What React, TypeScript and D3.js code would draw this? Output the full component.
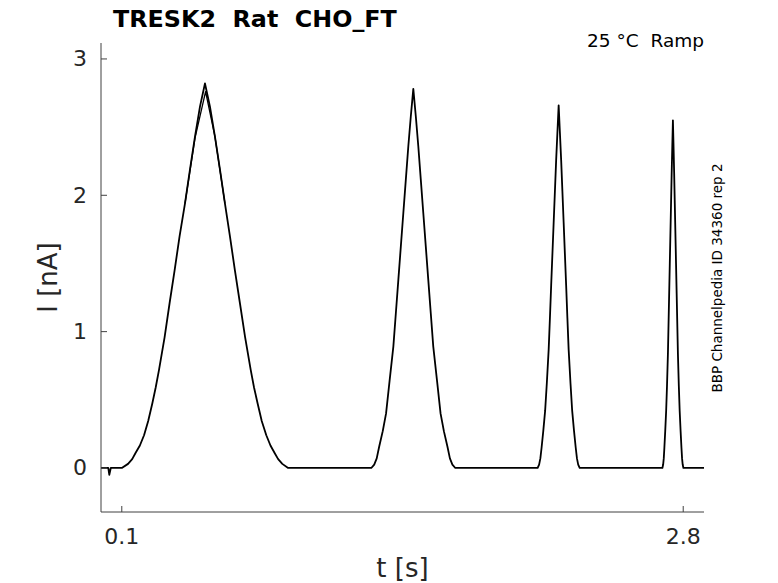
import React from "react";
import * as d3 from "d3";

const baseT = [0, 0.035, 0.04, 0.047];
const baseI = [0, 0, -0.05, 0];

const peak1T = [0.1, 0.13, 0.15, 0.166, 0.187, 0.207, 0.227, 0.247, 0.263, 0.279, 0.306, 0.33, 0.354, 0.378, 0.404, 0.428, 0.452, 0.476, 0.5,
  0.524, 0.548, 0.572, 0.596, 0.62, 0.644, 0.668, 0.693, 0.72, 0.736, 0.753, 0.773, 0.795, 0.815, 0.835, 0.852, 0.872, 0.9];
const peak1I = [0, 0.03, 0.065, 0.11, 0.165, 0.24, 0.345, 0.475, 0.59, 0.72, 0.96, 1.21, 1.45, 1.7, 1.94, 2.19, 2.43, 2.65, 2.82,
  2.65, 2.43, 2.19, 1.94, 1.7, 1.45, 1.21, 0.96, 0.72, 0.59, 0.475, 0.345, 0.24, 0.165, 0.11, 0.065, 0.03, 0];

const peak2T = [1.3, 1.314, 1.326, 1.338, 1.355, 1.371, 1.388, 1.406, 1.418, 1.43, 1.442, 1.454, 1.466, 1.478, 1.49, 1.502,
  1.514, 1.526, 1.538, 1.55, 1.562, 1.574, 1.586, 1.598, 1.616, 1.633, 1.649, 1.666, 1.678, 1.69, 1.704];
const peak2I = [0, 0.025, 0.07, 0.157, 0.27, 0.4, 0.64, 0.89, 1.135, 1.38, 1.625, 1.87, 2.115, 2.36, 2.58, 2.78,
  2.58, 2.36, 2.115, 1.87, 1.625, 1.38, 1.135, 0.89, 0.64, 0.4, 0.27, 0.157, 0.07, 0.025, 0];

const peak3T = [2.1, 2.107, 2.113, 2.119, 2.127, 2.136, 2.144, 2.153, 2.159, 2.165, 2.171, 2.177, 2.183, 2.189, 2.195, 2.201,
  2.207, 2.213, 2.219, 2.225, 2.231, 2.237, 2.243, 2.249, 2.258, 2.266, 2.275, 2.283, 2.289, 2.295, 2.302];
const peak3I = [0, 0.025, 0.07, 0.15, 0.27, 0.42, 0.62, 0.87, 1.1, 1.34, 1.57, 1.8, 2.03, 2.26, 2.46, 2.66,
  2.46, 2.26, 2.03, 1.8, 1.57, 1.34, 1.1, 0.87, 0.62, 0.42, 0.27, 0.15, 0.07, 0.025, 0];

const peak4T = [2.7, 2.7035, 2.7065, 2.7095, 2.7135, 2.718, 2.722, 2.7265, 2.7295, 2.7325, 2.7355, 2.7385, 2.7415, 2.7445, 2.7475, 2.7505,
  2.7535, 2.7565, 2.7595, 2.7625, 2.7655, 2.7685, 2.7715, 2.7745, 2.779, 2.783, 2.7875, 2.7915, 2.7945, 2.7975, 2.801, 2.9];
const peak4I = [0, 0.025, 0.07, 0.15, 0.27, 0.42, 0.6, 0.84, 1.06, 1.28, 1.5, 1.72, 1.94, 2.16, 2.36, 2.55,
  2.36, 2.16, 1.94, 1.72, 1.5, 1.28, 1.06, 0.84, 0.6, 0.42, 0.27, 0.15, 0.07, 0.025, 0, 0];

// second, slightly lower sweep visible on top of the first ramp
const sweep2T = [0.404, 0.452, 0.503, 0.548, 0.596];
const sweep2I = [1.94, 2.42, 2.76, 2.43, 1.94];

const xTicks = [0.1, 2.8];
const yTicks = [0, 1, 2, 3];

const title = "TRESK2  Rat  CHO_FT";
const condition = "25 °C  Ramp";
const sideNote = "BBP Channelpedia ID 34360 rep 2";

const W = 778;
const H = 583;
const left = 101;
const right = 704;
const top = 43;
const bottom = 512;

export default function App() {
  const x = d3.scaleLinear().domain([0, 2.9]).range([left, right]);
  const y = d3.scaleLinear().domain([-0.323, 3.117]).range([bottom, top]);

  const tAll = [...baseT, ...peak1T, ...peak2T, ...peak3T, ...peak4T];
  const iAll = [...baseI, ...peak1I, ...peak2I, ...peak3I, ...peak4I];
  const pts: [number, number][] = tAll.map((t, k) => [t, iAll[k]]);
  const pts2: [number, number][] = sweep2T.map((t, k) => [t, sweep2I[k]]);

  const line = d3
    .line<[number, number]>()
    .x((d) => x(d[0]))
    .y((d) => y(d[1]));

  const axisColor = "#404040";
  const textColor = "#262626";
  const font = "DejaVu Sans, sans-serif";

  return (
    <svg
      width={W}
      height={H}
      style={{ position: "absolute", left: 0, top: 0, background: "#fff" }}
      fontFamily={font}
    >
      {/* trace */}
      <path d={line(pts2) || ""} fill="none" stroke="#000" strokeWidth={1.3} strokeLinejoin="round" />
      <path d={line(pts) || ""} fill="none" stroke="#000" strokeWidth={1.8} strokeLinejoin="round" />

      {/* axes */}
      <line x1={left} x2={left} y1={top} y2={bottom} stroke={axisColor} strokeWidth={1} />
      <line x1={left} x2={right} y1={bottom} y2={bottom} stroke={axisColor} strokeWidth={1} />

      {yTicks.map((v) => (
        <g key={"y" + v}>
          <line x1={left} x2={left + 6} y1={y(v)} y2={y(v)} stroke={axisColor} />
          <text x={87} y={y(v)} textAnchor="end" dominantBaseline="central" fontSize={22} fill={textColor}>
            {v}
          </text>
        </g>
      ))}

      {xTicks.map((v) => (
        <g key={"x" + v}>
          <line x1={x(v)} x2={x(v)} y1={bottom} y2={bottom - 6} stroke={axisColor} />
          <text x={x(v)} y={544} textAnchor="middle" fontSize={22} fill={textColor}>
            {v}
          </text>
        </g>
      ))}

      {/* axis labels */}
      <text x={(left + right) / 2} y={577} textAnchor="middle" fontSize={26} fill={textColor}>
        t [s]
      </text>
      <text
        transform={`translate(57,${(top + bottom) / 2}) rotate(-90)`}
        textAnchor="middle"
        fontSize={26}
        fill={textColor}
      >
        I [nA]
      </text>

      {/* titles */}
      <text x={113} y={27} fontSize={23.8} fontWeight="bold" fill="#000" style={{ whiteSpace: "pre" }}>
        {title}
      </text>
      <text x={704} y={47} textAnchor="end" fontSize={18.5} fill="#000" style={{ whiteSpace: "pre" }}>
        {condition}
      </text>
      <text transform="translate(722,278) rotate(-90)" textAnchor="middle" fontSize={13.5} fill="#000">
        {sideNote}
      </text>
    </svg>
  );
}
